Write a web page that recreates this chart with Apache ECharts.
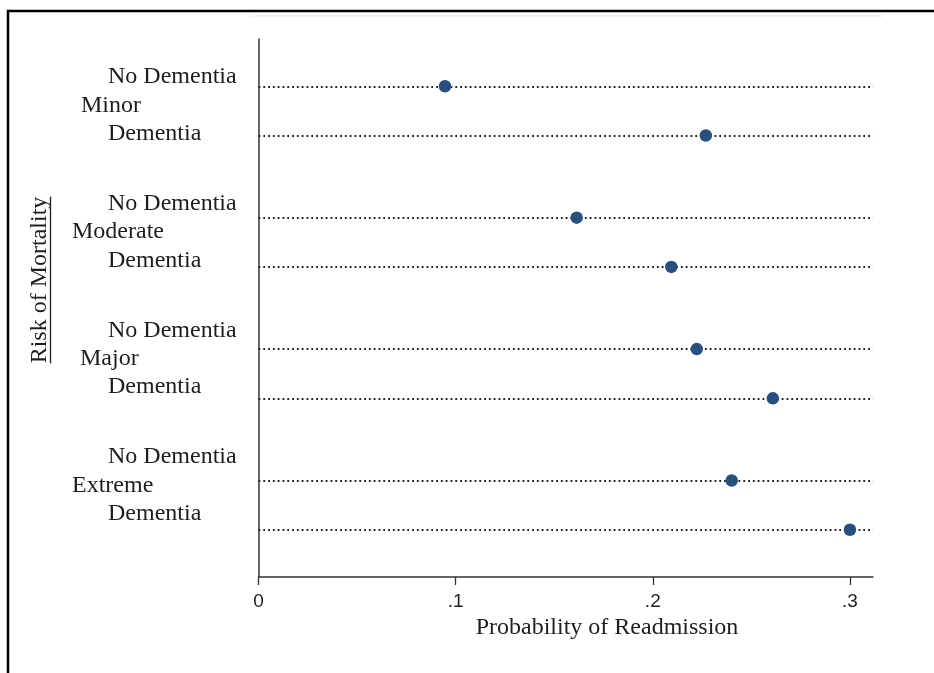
<!DOCTYPE html>
<html>
<head>
<meta charset="utf-8">
<script src="https://cdn.jsdelivr.net/npm/echarts@6/dist/echarts.min.js"></script>
<style>
html,body{margin:0;padding:0;background:#fff;}
#chart{width:934px;height:673px;}
</style>
</head>
<body>
<div id="chart"></div>
<script>
// ---- data ----
const riskGroups = ['Minor', 'Moderate', 'Major', 'Extreme'];
const dementiaLevels = ['No Dementia', 'Dementia'];
const probNoDementia = [0.0946, 0.1614, 0.2223, 0.2400];
const probDementia   = [0.2269, 0.2094, 0.2609, 0.3000];
const xTickValues = [0, 0.1, 0.2, 0.3];
const xTickLabels = ['0', '.1', '.2', '.3'];
const xAxisTitle = 'Probability of Readmission';
const yAxisTitle = 'Risk of Mortality';

// ---- layout ----
const GROUP_STEP = 2.67;      // distance between groups in row units
const PAD = 0.96;             // padding above first / below last row
const groupLabelX = [81, 72, 80, 72];
const rowLabelX = 108;
const labelBlockTop = 105.3, labelBlockStep = 126.7, labelLineStep = 28.3;

const serif = '"Liberation Serif", "Times New Roman", serif';
const sans = '"Liberation Sans", Arial, sans-serif';
const dotColor = '#28507f';
const inkColor = '#1e1e1e';

const rowPos = [];
const scatterData = [];
riskGroups.forEach((g, gi) => {
  [probNoDementia[gi], probDementia[gi]].forEach((v, i) => {
    const p = gi * GROUP_STEP + i;
    rowPos.push(p);
    scatterData.push([v, p]);
  });
});
const yMin = -PAD;
const yMax = (riskGroups.length - 1) * GROUP_STEP + (dementiaLevels.length - 1) + PAD;

const chart = echarts.init(document.getElementById('chart'), null, {renderer: 'canvas'});

// text labels
const graphics = [];
graphics.push({
  type: 'rect', silent: true, z: 10,
  shape: {x: 8, y: 11, width: 1000, height: 1000},
  style: {fill: null, stroke: '#000', lineWidth: 2.5}
});
graphics.push({
  type: 'line', silent: true, z: 1,
  shape: {x1: 250, y1: 16, x2: 883, y2: 16},
  style: {stroke: '#eef4f4', lineWidth: 2}
});
riskGroups.forEach((g, gi) => {
  const cy = labelBlockTop + gi * labelBlockStep;
  graphics.push({type: 'text', silent: true, x: rowLabelX, y: cy - labelLineStep,
    style: {text: dementiaLevels[0], font: '24px ' + serif, fill: inkColor, align: 'left', verticalAlign: 'middle'}});
  graphics.push({type: 'text', silent: true, x: groupLabelX[gi], y: cy,
    style: {text: g, font: '24px ' + serif, fill: inkColor, align: 'left', verticalAlign: 'middle'}});
  graphics.push({type: 'text', silent: true, x: rowLabelX, y: cy + labelLineStep,
    style: {text: dementiaLevels[1], font: '24px ' + serif, fill: inkColor, align: 'left', verticalAlign: 'middle'}});
});
// y title (rotated, underlined)
const ctx = document.createElement('canvas').getContext('2d');
ctx.font = '24px ' + serif;
const yTitleW = ctx.measureText(yAxisTitle).width;
const yTitleCx = 40, yTitleCy = 280;
graphics.push({type: 'text', silent: true, x: yTitleCx, y: yTitleCy, rotation: Math.PI / 2,
  style: {text: yAxisTitle, font: '24px ' + serif, fill: inkColor, align: 'center', verticalAlign: 'middle'}});
graphics.push({type: 'line', silent: true,
  shape: {x1: yTitleCx + 10.5, y1: yTitleCy - yTitleW / 2, x2: yTitleCx + 10.5, y2: yTitleCy + yTitleW / 2},
  style: {stroke: inkColor, lineWidth: 1.3}});
// x title
graphics.push({type: 'text', silent: true, x: 607, y: 628,
  style: {text: xAxisTitle, font: '24px ' + serif, fill: inkColor, align: 'center', verticalAlign: 'middle'}});

chart.setOption({
  animation: false,
  backgroundColor: '#fff',
  grid: {left: 258.5, right: 61, top: 39, bottom: 96, containLabel: false, outerBoundsMode: 'none'},
  xAxis: {
    type: 'value', min: 0, max: 0.3117, position: 'bottom',
    axisLine: {show: true, onZero: false, lineStyle: {color: '#333', width: 1.5}},
    axisTick: {show: true, length: 8, lineStyle: {color: '#333', width: 1.3}, customValues: xTickValues},
    axisLabel: {
      customValues: xTickValues, margin: 15,
      formatter: v => { const k = xTickValues.findIndex(t => Math.abs(t - v) < 1e-9); return k >= 0 ? xTickLabels[k] : ''; },
      fontFamily: sans, fontSize: 19, color: inkColor
    },
    splitLine: {show: false}
  },
  yAxis: {
    type: 'value', inverse: true, min: yMin, max: yMax,
    axisLine: {show: true, onZero: false, lineStyle: {color: '#333', width: 1.5}},
    axisTick: {show: false}, axisLabel: {show: false}, splitLine: {show: false}
  },
  series: [
    {
      type: 'line', data: [], z: 1, silent: true,
      markLine: {
        silent: true, symbol: ['none', 'none'], animation: false,
        label: {show: false},
        lineStyle: {color: '#222', width: 1.8, type: [1.8, 3], opacity: 1},
        emphasis: {disabled: true},
        data: rowPos.map(p => ({yAxis: p}))
      }
    },
    {
      type: 'scatter', z: 5, data: scatterData, symbol: 'circle', symbolSize: 12.5,
      itemStyle: {color: dotColor, opacity: 1}
    }
  ],
  graphic: graphics
});
</script>
</body>
</html>
